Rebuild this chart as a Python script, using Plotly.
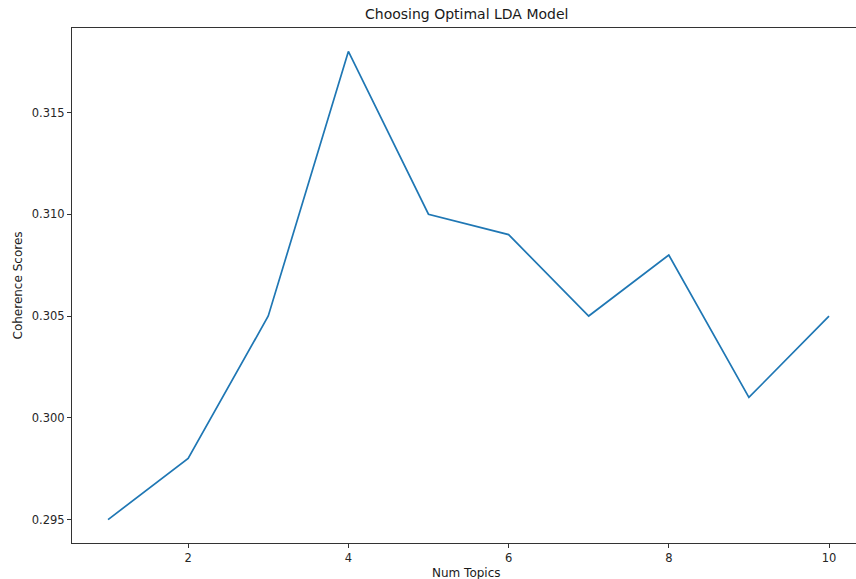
import plotly.graph_objects as go

num_topics = [1, 2, 3, 4, 5, 6, 7, 8, 9, 10]
coherence = [0.295, 0.298, 0.305, 0.318, 0.310, 0.309, 0.305, 0.308, 0.301, 0.305]
x_ticks = [2, 4, 6, 8, 10]
y_ticks = [0.295, 0.300, 0.305, 0.310, 0.315]

fig = go.Figure()
fig.add_trace(go.Scatter(x=num_topics, y=coherence, mode="lines",
                         line=dict(color="#1f77b4", width=1.7), hoverinfo="skip"))

font = "DejaVu Sans"
fig.update_layout(
    width=856, height=579,
    margin=dict(l=72, r=0, t=28, b=36),
    paper_bgcolor="white", plot_bgcolor="white",
    showlegend=False,
    font=dict(family=font, size=11.5, color="#262626"),
    xaxis=dict(range=[0.55, 10.337], tickvals=x_ticks, ticks="outside", ticklen=4,
               tickcolor="#333", showline=True, linecolor="#333", linewidth=1,
               mirror=True, showgrid=False, zeroline=False,
               tickfont=dict(family=font, size=11.5, color="#262626")),
    yaxis=dict(range=[0.29385, 0.31915], tickvals=y_ticks, tickformat=".3f",
               ticks="outside", ticklen=4, tickcolor="#333", showline=True,
               linecolor="#333", linewidth=1, mirror=False, showgrid=False,
               zeroline=False, tickfont=dict(family=font, size=11.5, color="#262626")),
    annotations=[
        dict(text="Choosing Optimal LDA Model", xref="paper", yref="paper",
             x=0.503, y=1, xanchor="center", yanchor="bottom", yshift=4,
             showarrow=False, font=dict(family=font, size=14, color="#1a1a1a")),
        dict(text="Num Topics", xref="paper", yref="paper", x=0.503, y=0,
             xanchor="center", yanchor="middle", yshift=-30, showarrow=False,
             font=dict(family=font, size=12, color="#1a1a1a")),
        dict(text="Coherence Scores", xref="paper", yref="paper", x=0, y=0.5,
             xanchor="center", yanchor="middle", xshift=-55, textangle=-90,
             showarrow=False, font=dict(family=font, size=12, color="#1a1a1a")),
    ],
)
fig.write_html("out.html", config={"displayModeBar": False, "staticPlot": True},
               post_script="document.body.style.margin='0';document.body.style.overflow='hidden';")
